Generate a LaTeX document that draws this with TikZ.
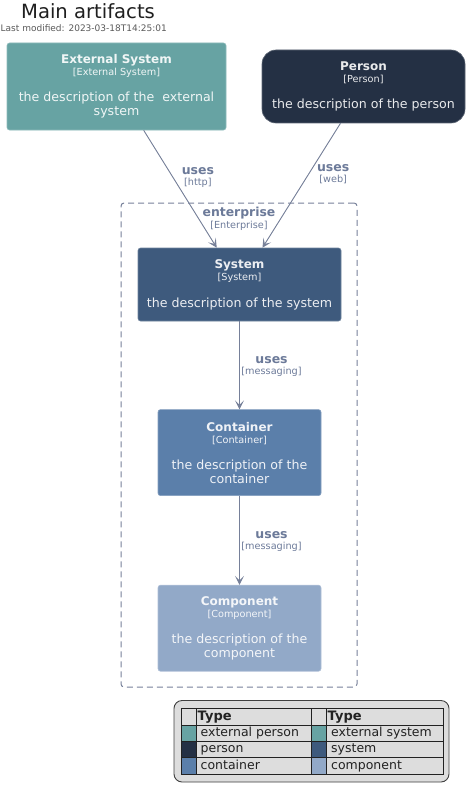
\documentclass[tikz,border=0pt]{standalone}
\usepackage{fontspec}
\setmainfont{DejaVu Sans}
\usetikzlibrary{arrows.meta}
\definecolor{extsys}{RGB}{103,163,163}
\definecolor{persfill}{RGB}{36,48,68}
\definecolor{sysfill}{RGB}{62,90,125}
\definecolor{contfill}{RGB}{91,127,170}
\definecolor{compfill}{RGB}{146,169,200}
\definecolor{relline}{RGB}{118,128,153}
\definecolor{reltext}{RGB}{108,122,153}
\definecolor{legendbg}{RGB}{221,221,221}
\definecolor{legendline}{RGB}{34,34,34}
\newcommand{\stereo}{\fontsize{9.7}{12}\selectfont}
\newcommand{\eltitle}{\fontsize{12}{14}\selectfont\bfseries}
\newcommand{\desc}{\fontsize{12.6}{14}\selectfont}
\tikzset{
    element/.style={rectangle, rounded corners=2.5pt, fill=#1, draw=white!25!#1,
        line width=0.6pt, text=white!90!#1, align=center, inner sep=0pt, font=\desc},
    rel/.style={->, draw=relline, fill=relline, line width=0.9pt},
    rellabel/.style={text=reltext, align=center, inner sep=0pt,
        font=\fontsize{12.5}{14}\selectfont},
    boundary/.style={rectangle, draw=relline, dash pattern=on 6pt off 4pt,
        line width=1pt, rounded corners=3pt, inner sep=0pt},
    legendtext/.style={anchor=base west, inner sep=0pt, text=legendline,
        font=\fontsize{12.5}{14}\selectfont}
}
\begin{document}
\begin{tikzpicture}[x=1pt, y=1pt, >={Stealth[length=9pt, width=9pt, inset=4.5pt]}]
    \useasboundingbox (0,0) rectangle (470,-797);
    \node[anchor=base, inner sep=0pt, text=black!88, font=\fontsize{19.6}{23}\selectfont] (title) at (88,-19) {Main artifacts};
    \node[anchor=base west, inner sep=0pt, text=black!65, font=\fontsize{9}{11}\selectfont] (modified) at (0.5,-32) {Last modified: 2023-03-18T14:25:01};
    %
    \node[element=extsys, minimum width=219pt, minimum height=87pt] (extsystem) at (116.5,-86.5) {
        {\eltitle External System}\\[-2pt]
        {\stereo [External System]}\\[12pt]
        the description of the \ external\\
        system
    };
    \node[element=persfill, rounded corners=14pt, minimum width=203pt, minimum height=73pt] (person) at (363.5,-86.5) {
        {\eltitle Person}\\[-2pt]
        {\stereo [Person]}\\[12pt]
        the description of the person
    };
    %
    \node[boundary, minimum width=236pt, minimum height=484pt] (enterprise) at (239,-445) {};
    \node[anchor=north, inner sep=0pt, align=center, text=reltext, font=\fontsize{12.4}{14}\selectfont] (enterpriselabel) at
    ([yshift=-4.5pt]enterprise.north) {
        {\bfseries enterprise}\\[-2pt]
        {\stereo [Enterprise]}
    };
    %
    \node[element=sysfill, minimum width=203pt, minimum height=73pt] (system) at (239.5,-284.5) {
        {\eltitle System}\\[-2pt]
        {\stereo [System]}\\[13pt]
        the description of the system
    };
    \node[element=contfill, anchor=north, minimum width=163pt, minimum height=86pt] (container) at
    ([yshift=-88pt]system.south) {
        {\eltitle Container}\\[-2pt]
        {\stereo [Container]}\\[12pt]
        the description of the \\
        container
    };
    \node[element=compfill, anchor=north, minimum width=163pt, minimum height=86pt] (component) at
    ([yshift=-89pt]container.south) {
        {\eltitle Component}\\[-2pt]
        {\stereo [Component]}\\[12pt]
        the description of the \\
        component
    };
    %
    \draw[rel] (extsystem) -- node[rellabel, pos=0.447, anchor=west, xshift=5pt, yshift=5pt] (httplabel) {{\bfseries uses}\\[-3pt]{\stereo [http]}} (system);
    \draw[rel] (person) -- node[rellabel, pos=0.447, anchor=west, xshift=11pt, yshift=5pt] (weblabel) {{\bfseries uses}\\[-3pt]{\stereo [web]}} (system);
    \draw[rel] (system) -- node[rellabel, midway, anchor=west, xshift=1.5pt, yshift=-1pt] (msglabela) {{\bfseries uses}\\[-3pt]{\stereo [messaging]}} (container);
    \draw[rel] (container) -- node[rellabel, midway, anchor=west, xshift=1.5pt, yshift=-1pt] (msglabelb) {{\bfseries uses}\\[-3pt]{\stereo [messaging]}} (component);
    %
    % legend
    \draw[fill=legendbg, draw=black!75, line width=0.9pt, rounded corners=8pt] (174,-700.5) rectangle (449,-782);
    \foreach \lcol/\ltext/\rcol/\rtext [count=\i] in {extsys/external person/extsys/external system,
        persfill/person/sysfill/system, contfill/container/compfill/component} {
        \pgfmathsetmacro{\ytop}{725+(\i-1)*16.35}
        \fill[\lcol] (181,-\ytop) rectangle (196,{-\ytop-16.35});
        \fill[\rcol] (311.5,-\ytop) rectangle (326.5,{-\ytop-16.35});
        \node[legendtext] (legl\i) at (200.5,{-\ytop-11.4}) {\ltext};
        \node[legendtext] (legr\i) at (331,{-\ytop-11.4}) {\rtext};
    }
    \node[legendtext, font=\fontsize{13}{14}\selectfont\bfseries] (typel) at (197.5,-720.3) {Type};
    \node[legendtext, font=\fontsize{13}{14}\selectfont\bfseries] (typer) at (327.5,-720.3) {Type};
    \draw[legendline, line width=0.9pt] (181,-708.5) rectangle (443.5,-774)
        (196,-708.5) -- (196,-774) (311.5,-708.5) -- (311.5,-774) (326.5,-708.5) -- (326.5,-774)
        (181,-725) -- (443.5,-725) (181,-741.35) -- (443.5,-741.35) (181,-757.7) -- (443.5,-757.7);
\end{tikzpicture}
\end{document}
